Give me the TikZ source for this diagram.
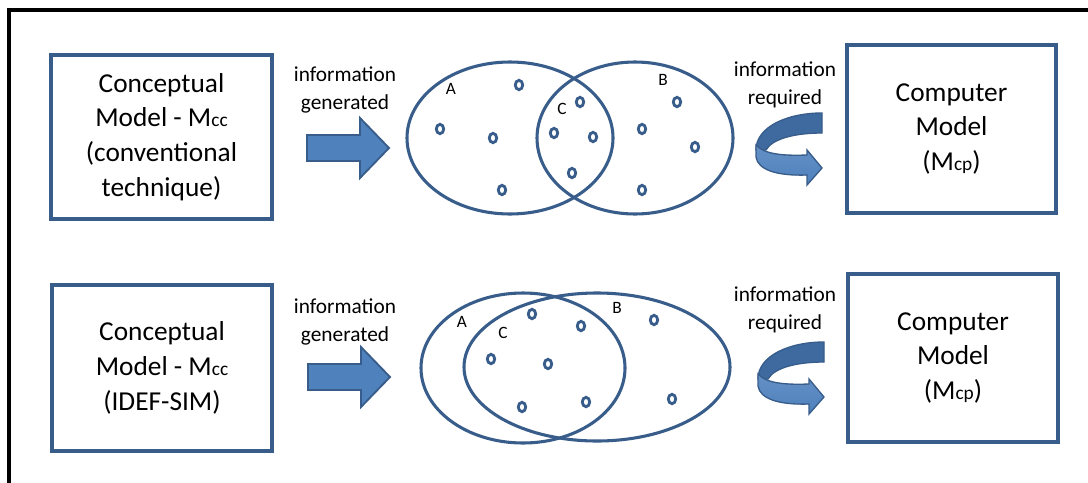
\documentclass[tikz,border=0pt]{standalone}
\usepackage{fontspec}
\setmainfont{Carlito}

\definecolor{boxline}{RGB}{56,93,138}
\definecolor{arrowfill}{RGB}{79,129,189}
\definecolor{arrowback}{RGB}{62,106,160}

\newcommand{\bigtext}{\fontsize{20.5pt}{26pt}\selectfont}
\newcommand{\smalltext}{\fontsize{16pt}{21pt}\selectfont}
\newcommand{\subtext}[1]{{\fontsize{14.5pt}{14.5pt}\selectfont #1}}

\tikzset{
  model/.style={draw=boxline, line width=2.3pt, align=center, font=\bigtext},
  info/.style={align=center, font=\smalltext, inner sep=0pt},
  venn/.style={draw=boxline, line width=2.3pt},
  dot/.style={draw=boxline, line width=2.1pt},
  setlabel/.style={font=\fontsize{13pt}{13pt}\selectfont, inner sep=0pt},
  blockarrow/.style={fill=arrowfill, draw=boxline, line width=1.4pt, line join=miter},
  turnarrow/.pic={
    % back of the ribbon
    \fill[arrowback, draw=boxline, line width=1pt]
      (0,0) -- (0,20) .. controls (-28,20) and (-50,26) .. (-56,37)
      -- (-66,37) .. controls (-66,14) and (-35,0) .. (0,0) -- cycle;
    % front of the ribbon with its head
    \fill[top color=arrowfill!88!white, bottom color=arrowfill, draw=boxline, line width=1pt, line join=miter]
      (-66,32) .. controls (-58,41) and (-40,43) .. (-15,42)
      -- (-15,37) -- (0,55) -- (-15,72) -- (-15,62)
      .. controls (-45,63) and (-64,57) .. (-66,44) -- cycle;
  }
}

\begin{document}
\begin{tikzpicture}[x=0.75pt, y=-0.75pt]
  \clip (0,0) rectangle (1088,482);
  \fill[white] (0,0) rectangle (1088,482);
  \draw[line width=2.4pt] (9,500) -- (9,10) -- (1100,10);

  % upper row: conventional technique
  \node[model, minimum width=165.75pt, minimum height=123pt] (concA) at (161.5,137)
    {Conceptual\\Model - M\subtext{cc}\\(conventional\\technique)};
  \node[model, minimum width=156.75pt, minimum height=126pt] (compA) at (951.5,129)
    {Computer\\Model\\(M\subtext{cp})};

  \node[info] (genA) at (345,90) {information\\generated};
  \node[info] (reqA) at (785,85) {information\\required};

  \draw[blockarrow] (307,135) -- (360,135) -- (360,118) -- (389,148)
    -- (360,178) -- (360,161) -- (307,161) -- cycle;

  \draw[venn] (510,138) ellipse [x radius=103, y radius=76];
  \draw[venn] (635,138) ellipse [x radius=98, y radius=76];
  \foreach \p in {(519,85),(440,129),(493,138),(502,190),(580,102),(554,133),
                  (593,137),(572,173),(677,102),(642,129),(695,147),(642,190)}
    \draw[dot] \p ellipse [x radius=3.7, y radius=4.7];
  \node[setlabel] (setA) at (451,89) {A};
  \node[setlabel] (setC) at (562,109) {C};
  \node[setlabel] (setB) at (663,80) {B};

  \pic at (822,113) {turnarrow};

  % lower row: IDEF-SIM
  \node[model, minimum width=165pt, minimum height=124.5pt] (concB) at (162,368)
    {Conceptual\\Model - M\subtext{cc}\\(IDEF-SIM)};
  \node[model, minimum width=157.5pt, minimum height=126pt] (compB) at (953,358)
    {Computer\\Model\\(M\subtext{cp})};

  \node[info] (genB) at (345,322) {information\\generated};
  \node[info] (reqB) at (785,310) {information\\required};

  \draw[blockarrow] (308,364) -- (361,364) -- (361,347) -- (390,377)
    -- (361,407) -- (361,390) -- (308,390) -- cycle;

  \draw[venn] (523,368) ellipse [x radius=102, y radius=75];
  \draw[venn] (597,367) ellipse [x radius=133, y radius=74];
  \foreach \p in {(532,314),(581,326),(654,320),(491,359),(548,364),(522,407),
                  (586,402),(672,399)}
    \draw[dot] \p ellipse [x radius=3.7, y radius=4.7];
  \node[setlabel] (setA2) at (462,322) {A};
  \node[setlabel] (setC2) at (503,333) {C};
  \node[setlabel] (setB2) at (617,308) {B};

  \pic at (824,342) {turnarrow};
\end{tikzpicture}
\end{document}
